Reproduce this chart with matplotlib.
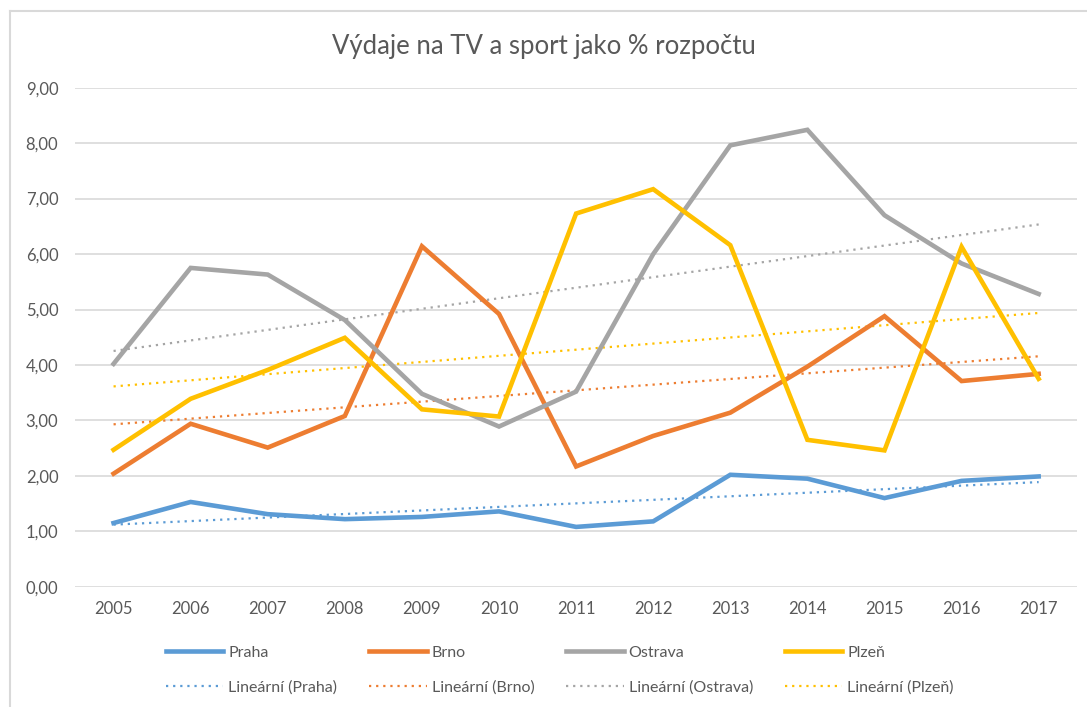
import numpy as np
import matplotlib.pyplot as plt
from matplotlib.lines import Line2D

years = list(range(2005, 2018))

praha = [1.15, 1.53, 1.31, 1.22, 1.26, 1.36, 1.08, 1.18, 2.02, 1.95, 1.60, 1.91, 1.99]
brno = [2.04, 2.94, 2.51, 3.08, 6.14, 4.92, 2.17, 2.72, 3.14, 3.97, 4.88, 3.71, 3.84]
ostrava = [4.02, 5.75, 5.63, 4.81, 3.48, 2.89, 3.52, 6.00, 7.96, 8.24, 6.70, 5.83, 5.28]
plzen = [2.47, 3.39, 3.91, 4.49, 3.20, 3.07, 6.73, 7.17, 6.16, 2.65, 2.46, 6.13, 3.75]

names = ['Praha', 'Brno', 'Ostrava', 'Plzeň']
colors = ['#5b9bd5', '#ed7d31', '#a5a5a5', '#ffc000']

plt.rcParams['font.family'] = ['Lato', 'DejaVu Sans']
txt = '#595959'

fig = plt.figure(figsize=(10.87, 7.07), dpi=100)
ax = fig.add_axes([0.069, 0.170, 0.922, 0.706])

x = np.array(years)
handles = []
for name, vals, c in zip(names, [praha, brno, ostrava, plzen], colors):
    h1, = ax.plot(x, vals, color=c, lw=3.3, solid_joinstyle='miter', label=name, zorder=3)
    k, q = np.polyfit(x, vals, 1)
    h2, = ax.plot(x, k * x + q, color=c, lw=1.6, linestyle=(0, (1, 2.2)),
                  label='Lineární (%s)' % name, zorder=2)
    handles += [h1, h2]

ax.set_xlim(2004.5, 2017.5)
ax.set_ylim(0, 9)
ax.set_xticks(years)
ax.set_yticks(np.arange(0, 10, 1))
ax.set_yticklabels(['%d,00' % v for v in range(10)])
ax.grid(axis='y', color='#d9d9d9', lw=1.2)
ax.set_axisbelow(True)
for s in ax.spines.values():
    s.set_visible(False)
ax.tick_params(length=0, colors=txt, labelsize=12, pad=10)
ax.tick_params(axis='y', pad=12)

fig.suptitle('Výdaje na TV a sport jako % rozpočtu', y=0.952, fontsize=18.5, color=txt)

leg = fig.legend(handles=handles, ncol=4, loc='center', bbox_to_anchor=(0.515, 0.052),
                 frameon=False, fontsize=11.5, handlelength=3.6, handletextpad=0.3,
                 columnspacing=2.0, labelspacing=1.3)
for t in leg.get_texts():
    t.set_color(txt)

# chart border (left and top visible)
fig.add_artist(Line2D([10 / 1087, 10 / 1087], [0, 1 - 11 / 707], transform=fig.transFigure,
                      color='#d9d9d9', lw=1.5))
fig.add_artist(Line2D([10 / 1087, 1], [1 - 11 / 707, 1 - 11 / 707], transform=fig.transFigure,
                      color='#d9d9d9', lw=1.5))

fig.savefig('out.png', dpi=100)
